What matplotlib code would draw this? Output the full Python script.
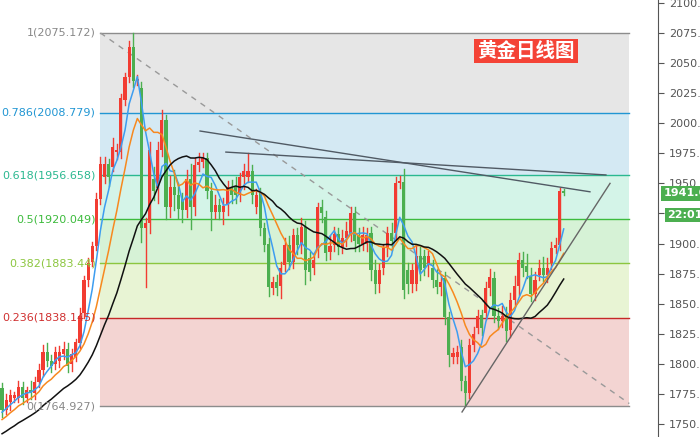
import matplotlib
matplotlib.use("Agg")
import matplotlib.pyplot as plt
import numpy as np
import pandas as pd
from matplotlib.patches import Rectangle

plt.rcParams['font.family'] = ['Noto Sans CJK SC', 'DejaVu Sans']

# ---- data ----
pre_close = [1712, 1716, 1720, 1718, 1724, 1722, 1728, 1726, 1730, 1733, 1731, 1736,
             1738, 1735, 1740, 1742, 1745, 1743, 1748, 1750, 1752, 1755, 1758, 1760, 1764]
opens = [1780,1762,1768,1772,1772,1781,1772,1778,1776,1785,1795,1810,1802,1800,1802,1808,1812,1800,1806,1817,
         1842,1870,1885,1898,1937,1955,1966,1964,1976,1976,2019,2038,2063,2035,2029,1913,1917,1954,1946,1978,
         2003,1930,1947,1940,1937,1928,1954,1930,1965,1968,1971,1944,1926,1932,1926,1932,1947,1947,1940,1955,
         1955,1960,1930,1942,1913,1900,1863,1868,1865,1882,1899,1885,1907,1899,1914,1888,1880,1895,1930,1922,
         1893,1899,1908,1897,1905,1907,1925,1907,1900,1900,1909,1878,1866,1880,1896,1909,1909,1950,1951,1878,
         1866,1866,1890,1890,1882,1880,1870,1864,1871,1839,1806,1806,1814,1786,1776,1816,1830,1841,1842,1863,
         1871,1840,1836,1840,1828,1853,1865,1886,1881,1873,1858,1874,1880,1874,1884,1896,1899,1944]
closes = [1762,1770,1774,1774,1781,1772,1778,1777,1785,1795,1810,1802,1798,1810,1810,1812,1798,1808,1818,1840,
          1870,1884,1898,1937,1966,1966,1955,1980,1978,2021,2038,2063,2035,2037,1913,1917,1978,1944,1978,2003,
          1930,1947,1940,1929,1928,1954,1930,1965,1968,1972,1944,1926,1932,1926,1931,1947,1940,1940,1955,1960,
          1960,1940,1940,1913,1899,1864,1868,1863,1880,1899,1885,1907,1899,1914,1878,1876,1886,1930,1925,1892,
          1898,1908,1897,1905,1910,1925,1902,1900,1907,1907,1878,1866,1878,1896,1909,1902,1950,1952,1861,1866,
          1878,1890,1878,1880,1890,1870,1864,1868,1839,1807,1809,1810,1786,1776,1816,1825,1840,1830,1863,1872,
          1840,1836,1840,1827,1853,1865,1886,1880,1876,1858,1870,1880,1874,1880,1896,1899,1944,1941.6]
up_wick = [4,5,4,3,5,4,3,8,4,5,6,7,5,4,5,6,5,4,3,6,
           3,4,3,5,6,6,4,8,5,3,4,5,12,3,5,4,6,10,6,8,
           4,9,14,10,5,7,12,6,7,3,4,6,8,5,7,5,6,8,4,6,
           15,5,5,4,4,5,4,6,5,6,7,5,6,7,5,5,6,4,6,5,
           8,6,5,6,8,5,5,6,7,6,5,8,5,4,5,8,5,4,11,6,
           5,8,7,5,4,6,8,6,5,4,4,5,6,4,5,6,5,4,5,7,
           5,6,8,7,6,8,6,7,10,7,6,6,9,8,5,6,2,1]
dn_wick = [6,4,6,4,4,5,4,6,5,4,5,4,5,4,5,4,5,6,4,4,
           4,5,4,3,4,5,7,4,6,5,4,4,5,3,12,49,8,8,12,5,
           10,8,12,8,10,6,18,6,5,4,6,15,5,6,10,8,6,6,5,10,
           4,6,5,6,5,8,5,6,10,5,6,5,8,7,12,6,5,6,7,6,
           6,5,6,5,7,5,8,6,5,6,8,7,6,5,6,7,5,4,6,7,
           6,5,8,6,9,6,5,7,6,9,5,5,8,11,4,5,4,6,5,6,
           5,7,5,8,6,4,8,7,5,6,5,4,5,6,5,4,4,1]

fib_prices = [2075.172, 2008.779, 1956.658, 1920.049, 1883.44, 1838.145, 1764.927]
fib_labels = ['1(2075.172)', '0.786(2008.779)', '0.618(1956.658)', '0.5(1920.049)',
              '0.382(1883.44)', '0.236(1838.145)', '0(1764.927)']
fib_line_colors = ['#8c8c8c', '#2196d3', '#2bb890', '#3dbb3d', '#8cc63f', '#c62828', '#8c8c8c']
fib_fill_colors = ['#e6e6e6', '#d4e9f3', '#d4f4e8', '#d6f2d6', '#e8f4d4', '#f3d4d2']
fib_text_colors = ['#888888', '#2196d3', '#2bb890', '#3dbb3d', '#8cc63f', '#d03030', '#888888']
fib_start, fib_end = 24, 153

dashed_line = ([24, 153], [2075, 1767])
line_a = ([48.3, 143.4], [1993.5, 1943])
line_b = ([54.6, 147.3], [1976, 1957])
rise_line = ([112.2, 148.3], [1760, 1950])

yticks = [1750, 1775, 1800, 1825, 1850, 1875, 1900, 1925, 1950, 1975, 2000, 2025, 2050, 2075, 2100]
last_price = '1941.60'
countdown = '22:01:36'
title = '黄金日线图'

# ---- derived ----
n = len(closes)
idx = np.arange(n)
all_close = pd.Series(pre_close + closes)
npre = len(pre_close)
ma5 = all_close.rolling(5).mean().values[npre:]
ma10 = all_close.rolling(10).mean().values[npre:]
ma20 = all_close.rolling(22).mean().values[npre:]
o = np.array(opens, float); c = np.array(closes, float)
hi = np.maximum(o, c) + np.array(up_wick)
lo = np.minimum(o, c) - np.array(dn_wick)

fig = plt.figure(figsize=(7, 4.37), dpi=100)
ax = fig.add_axes([0, 0, 658/700, 1])
ax.set_xlim(-0.5, 160)
ax.set_ylim(1739.2, 2102.4)

for k in range(6):
    ax.add_patch(Rectangle((fib_start, fib_prices[k+1]), fib_end - fib_start,
                           fib_prices[k] - fib_prices[k+1], color=fib_fill_colors[k], lw=0, zorder=0))
for k in range(7):
    ax.plot([fib_start, fib_end], [fib_prices[k]]*2, color=fib_line_colors[k], lw=1, zorder=1)
    ax.text(fib_start - 1.2, fib_prices[k], fib_labels[k], color=fib_text_colors[k],
            fontsize=8, ha='right', va='center', family=['DejaVu Sans'], zorder=6)

red, green = '#f23c32', '#4caf50'
for i in idx:
    col = red if c[i] >= o[i] else green
    ax.plot([i, i], [lo[i], hi[i]], color=col, lw=1, zorder=3)
    b0 = min(o[i], c[i]); bh = max(abs(c[i]-o[i]), 0.6)
    ax.add_patch(Rectangle((i-0.38, b0), 0.76, bh, color=col, lw=0, zorder=3))

ax.plot(idx, ma5, color='#3d9df0', lw=1.1, zorder=4)
ax.plot(idx, ma10, color='#f7891f', lw=1.1, zorder=4)
ax.plot(idx, ma20, color='#111111', lw=1.1, zorder=4)

ax.plot(*dashed_line, color='#999999', lw=1, ls=(0, (4, 4)), zorder=2)
ax.plot(*line_a, color='#505a64', lw=1, zorder=5)
ax.plot(*line_b, color='#505a64', lw=1, zorder=5)
ax.plot(*rise_line, color='#666666', lw=1, zorder=5)

ax.text(127.8, 2060, title, color='white', fontsize=14, fontweight='bold', ha='center', va='center',
        bbox=dict(boxstyle='square,pad=0.15', fc='#f44336', ec='none'), zorder=7)

for s in ['top', 'left', 'bottom']:
    ax.spines[s].set_visible(False)
ax.spines['right'].set_color('#555555')
ax.set_xticks([])
ax.yaxis.tick_right()
ax.set_yticks(yticks)
ax.set_yticklabels([f'{v:.3f}' for v in yticks], fontsize=8, color='#555555', family=['DejaVu Sans'])
ax.tick_params(axis='y', length=4, color='#555555', pad=4)
ax.text(1.008, 1941.6, last_price, transform=ax.get_yaxis_transform(), color='white', fontsize=8,
        fontweight='bold', va='center', ha='left', family=['DejaVu Sans'],
        bbox=dict(boxstyle='square,pad=0.2', fc='#4caf50', ec='none'), zorder=8, clip_on=False)
ax.text(1.014, 1923.5, countdown, transform=ax.get_yaxis_transform(), color='white', fontsize=8,
        fontweight='bold', va='center', ha='left', family=['DejaVu Sans'],
        bbox=dict(boxstyle='square,pad=0.2', fc='#4caf50', ec='none'), zorder=8, clip_on=False)

fig.savefig('out.png', dpi=100)
